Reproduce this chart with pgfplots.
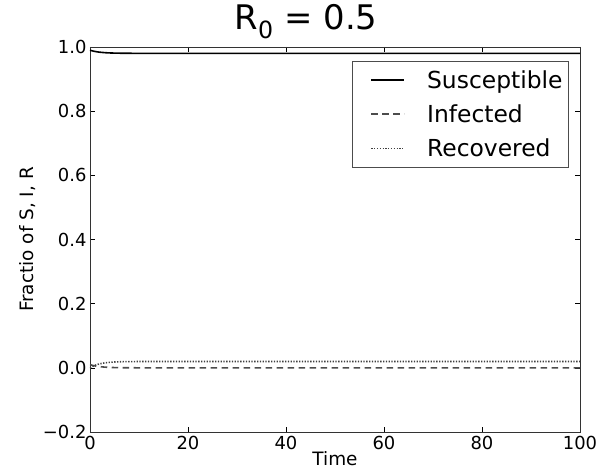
\documentclass[border=0pt]{standalone}
\usepackage{pgfplots}
\pgfplotsset{compat=1.18}
\usepackage{fontspec}
\setmainfont{DejaVu Sans}
\usetikzlibrary{calc}
\begin{document}
\begin{tikzpicture}
\begin{axis}[
  scale only axis, width=490bp, height=385bp,
  xmin=0, xmax=100, ymin=-0.2, ymax=1.0,
  xtick={0,20,40,60,80,100},
  ytick={-0.2,0,0.2,0.4,0.6,0.8,1.0},
  yticklabels={−0.2,0.0,0.2,0.4,0.6,0.8,1.0},
  xticklabels={0,20,40,60,80,100},
  tick align=inside, xtick pos=both, ytick pos=both,
  major tick length=5bp,
  tick style={black, line width=0.6bp},
  axis line style={black!80, line width=0.9bp},
  ticklabel style={font=\fontsize{18}{20}\selectfont},
  xticklabel style={yshift=-1bp},
  label style={font=\fontsize{18.5}{20}\selectfont},
  xlabel={Time}, ylabel={Fractio of S, I, R},
  xlabel style={yshift=5bp},
  ylabel style={yshift=0bp},
  legend style={at={(1,1)}, anchor=north east, xshift=-11bp, yshift=-14bp,
    draw=black!70, line width=0.8bp, font=\fontsize{23.5}{27}\selectfont,
    row sep=11bp, column sep=20bp, inner xsep=4bp, inner ysep=7bp},
  legend cell align=left,
  legend image code/.code={\path (0bp,0bp); \draw[#1] (14bp,0bp) -- (47bp,0bp);},
]
\addplot[black, line width=1.6bp] coordinates {
(0,0.99) (0.5,0.98781) (1,0.98611) (1.5,0.98480) (2,0.98377) (3,0.98235) (4,0.98150) (5,0.98099) (6,0.98068) (7,0.98049) (8,0.98038) (10,0.98027) (15,0.98020) (30,0.98020) (60,0.98020) (100,0.98020)};
\addlegendentry{Susceptible}
\addplot[black!70, line width=1.6bp, dash pattern=on 6.5bp off 4.5bp] coordinates {
(0,0.01) (0.5,0.00777) (1,0.00604) (1.5,0.00469) (2,0.00364) (3,0.00220) (4,0.00133) (5,0.00080) (6,0.00048) (7,0.00029) (8,0.00018) (10,0.00006) (15,0.0) (30,0.0) (60,0.0) (100,0.0)};
\addlegendentry{Infected}
\addplot[black!75, line width=1.6bp, dash pattern=on 1.3bp off 1.5bp] coordinates {
(0,0.0) (0.5,0.00442) (1,0.00785) (1.5,0.01051) (2,0.01259) (3,0.01545) (4,0.01717) (5,0.01821) (6,0.01884) (7,0.01922) (8,0.01944) (10,0.01967) (15,0.01980) (30,0.01980) (60,0.01980) (100,0.01980)};
\addlegendentry{Recovered}
\end{axis}
\node[font=\fontsize{34}{38}\selectfont, anchor=center] at ($(current axis.north west)+(216bp,25bp)$) {R\textsubscript{0} = 0.5};
\path ($(current axis.south west)+(-90bp,-41bp)$) rectangle ($(current axis.north east)+(31bp,47bp)$);
\end{tikzpicture}
\end{document}
